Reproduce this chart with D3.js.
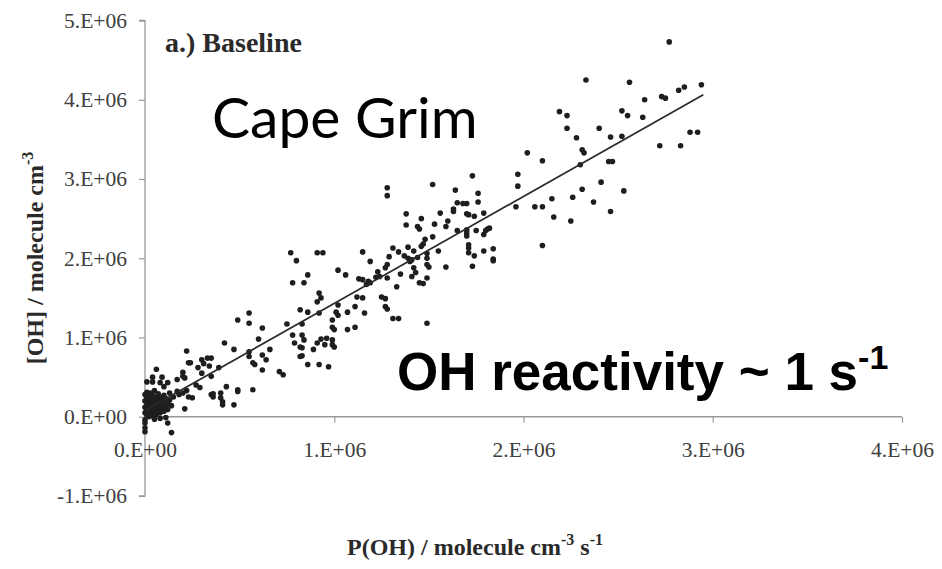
<!DOCTYPE html>
<html>
<head>
<meta charset="utf-8">
<script src="https://cdn.jsdelivr.net/npm/d3@7"></script>
<style>
  html, body { margin: 0; padding: 0; background: #fff; }
  svg { display: block; }
</style>
</head>
<body>
<svg id="chart" width="942" height="569"></svg>
<script>
// Production rate of OH, P(OH), in units of 1e6 molecule cm^-3 s^-1
const pOH = [
  2.77,2.56,2.82,2.85,2.94,2.64,2.73,2.75,2.52,2.55,2.63,2.40,2.46,2.52,2.88,2.92,2.72,2.83,2.45,2.47,2.41,2.53,2.46,
  2.33,2.19,2.23,2.23,2.28,2.31,2.02,2.10,2.30,1.73,1.97,
  2.32,1.28,1.28,1.52,1.97,1.64,1.76,2.31,2.26,2.15,2.37,1.65,1.76,1.68,1.70,1.56,1.63,1.63,1.70,1.71,1.74,1.79,1.96,2.06,2.10,2.16,2.25,
  1.38,1.38,1.46,1.53,1.60,1.59,1.44,1.45,1.65,1.70,1.70,1.70,1.75,1.80,1.81,1.79,1.82,1.52,1.48,1.47,1.46,1.71,1.71,1.71,1.74,1.79,1.84,1.84,1.84,
  1.73,1.55,1.59,2.10,1.31,1.34,1.39,1.42,1.49,1.37,1.39,1.41,1.40,1.44,1.29,1.28,1.27,1.49,1.49,1.50,1.42,1.43,1.41,1.35,1.49,1.45,1.47,1.28,1.33,
  1.25,1.27,1.27,1.28,1.31,1.34,1.49,1.24,
  0.77,0.80,0.91,0.94,0.78,0.84,0.86,1.02,1.06,1.15,1.19,1.23,1.13,1.15,1.18,1.19,1.17,1.22,0.92,0.93,0.91,1.02,1.12,1.15,0.82,0.86,1.01,0.99,1.07,
  1.11,1.16,0.75,0.83,0.92,0.99,1.00,1.02,1.07,1.11,0.78,0.83,0.79,0.82,0.83,0.83,0.82,0.89,0.84,0.91,0.93,0.96,0.95,0.99,0.99,1.00,0.92,0.97,0.86,
  0.55,0.49,0.55,0.62,0.42,0.47,0.60,0.55,0.55,0.57,0.58,0.62,0.64,0.66,0.62,0.71,0.73,0.57,0.49,0.49,0.43,0.39,0.34,0.35,0.33,0.30,0.31,0.24,0.28,
  0.22,0.23,0.20,0.20,0.21,0.17,0.30,0.35,0.35,0.36,0.36,0.40,0.41,0.41,0.47,0.27,0.29,0.22,0.23,0.21,0.25,0.20,0.17,0.18,0.13,0.10,0.12,0.09,0.06,
  0.04,0.08,0.01,0.04,0.00,0.00,0.00,0.12,0.14,0.11,0.40,
  0.00,0.00,0.00,0.00,0.01,0.01,0.01,0.01,0.01,0.02,0.02,0.02,0.02,0.02,0.03,0.03,0.03,0.03,0.04,0.04,0.04,0.04,0.05,0.05,0.05,0.05,0.06,0.06,0.06,
  0.07,0.07,0.07,0.07,0.08,0.08,0.08,0.09,0.09,0.09,0.10,0.10,0.10,0.11,0.11,0.12,0.12,0.13,0.14,0.15,0.05,0.00,0.08
];

// Measured [OH], in units of 1e6 molecule cm^-3
const ohConc = [
  4.73,4.22,4.12,4.16,4.19,4.00,4.04,4.02,3.86,3.80,3.78,3.64,3.53,3.54,3.59,3.59,3.42,3.42,3.22,3.22,2.96,2.85,2.59,
  4.25,3.85,3.80,3.64,3.52,3.37,3.33,3.23,3.18,3.04,3.06,
  3.33,2.89,2.79,2.93,2.91,2.86,2.82,2.87,2.77,2.75,2.71,2.70,2.71,2.69,2.69,2.57,2.62,2.59,2.56,2.55,2.53,2.57,2.65,2.65,2.65,2.52,2.47,
  2.56,2.42,2.50,2.43,2.47,2.40,2.40,2.37,2.35,2.36,2.32,2.28,2.35,2.35,2.37,2.30,2.38,2.27,2.24,2.18,2.15,2.17,2.13,2.07,2.03,2.09,2.12,1.99,1.97,
  1.90,2.09,1.89,2.16,2.13,2.08,2.14,2.09,2.06,2.03,2.00,1.98,1.96,2.01,2.02,1.92,1.88,2.00,1.92,1.89,1.88,1.82,1.77,1.80,1.75,1.69,1.68,1.75,1.64,
  1.51,1.49,1.39,1.36,1.24,1.24,1.18,1.77,
  2.07,1.97,2.07,2.07,1.69,1.69,1.79,1.85,1.79,2.08,1.96,1.83,1.74,1.73,1.71,1.69,1.67,1.76,1.56,1.50,1.45,1.41,1.51,1.50,1.35,1.32,1.32,1.22,1.32,
  1.39,1.31,1.17,1.17,1.31,1.13,1.10,1.28,1.10,1.13,1.03,1.03,0.93,0.88,0.87,0.77,0.76,0.85,0.97,0.93,0.98,0.99,0.91,0.97,0.91,0.88,0.66,0.63,0.66,
  1.31,1.22,1.18,1.12,0.93,0.85,0.98,0.82,0.76,0.68,0.66,0.78,0.72,0.85,0.59,0.57,0.53,0.34,0.34,0.32,0.38,0.62,0.64,0.74,0.74,0.72,0.67,0.68,0.62,
  0.83,0.68,0.56,0.51,0.49,0.47,0.55,0.51,0.28,0.25,0.29,0.30,0.15,0.19,0.15,0.40,0.37,0.33,0.25,0.10,0.24,0.30,0.32,0.28,0.30,0.38,0.43,0.50,0.60,
  0.50,0.43,0.44,0.44,-0.08,-0.14,-0.19,-0.08,-0.20,-0.01,0.24,
  0.05,0.12,0.20,0.28,0.02,0.09,0.16,0.24,0.31,0.00,0.07,0.13,0.19,0.26,0.04,0.10,0.22,0.30,0.01,0.14,0.18,0.27,0.06,0.11,0.21,0.33,0.03,0.16,0.25,
  0.08,0.13,0.20,0.29,0.05,0.17,0.24,0.10,0.15,0.22,0.07,0.19,0.27,0.12,0.23,0.16,0.09,0.21,0.14,0.25,-0.03,-0.04,-0.02
];

// Least-squares fit drawn through the points (same units)
const fitSlope = 1.35;
const fitIntercept = 0.08;
const fitRange = [0, 2.95];

// Axis ticks and their labels
const xTicks = [0, 1, 2, 3, 4];
const xTickLabels = ["0.E+00", "1.E+06", "2.E+06", "3.E+06", "4.E+06"];
const yTicks = [-1, 0, 1, 2, 3, 4, 5];
const yTickLabels = ["-1.E+06", "0.E+00", "1.E+06", "2.E+06", "3.E+06", "4.E+06", "5.E+06"];

const svg = d3.select("#chart");
const serif = "'Liberation Serif', 'Times New Roman', serif";

const x = d3.scaleLinear().domain([0, 4]).range([145, 902]);
const y = d3.scaleLinear().domain([-1, 5]).range([496, 20.5]);

// y axis at x = 0
const yAxis = d3.axisLeft(y)
  .tickValues(yTicks)
  .tickFormat((d, i) => yTickLabels[i])
  .tickSize(6)
  .tickPadding(12);
const gy = svg.append("g").attr("transform", `translate(${x(0)},0)`).call(yAxis);

// x axis at y = 0
const xAxis = d3.axisBottom(x)
  .tickValues(xTicks)
  .tickFormat((d, i) => xTickLabels[i])
  .tickSize(6)
  .tickPadding(19);
const gx = svg.append("g").attr("transform", `translate(0,${y(0)})`).call(xAxis);

[gx, gy].forEach(g => {
  g.select(".domain").attr("stroke", "#9a9a9a").attr("stroke-width", 1.3);
  g.selectAll(".tick line").attr("stroke", "#9a9a9a").attr("stroke-width", 1.2);
  g.selectAll(".tick text")
    .attr("fill", "#404040")
    .style("font-family", serif)
    .style("font-size", "21.5px");
});
gy.select(".domain").attr("d", `M-6,${y(5)}H0V${y(-1)}H-6`);
gx.select(".domain").attr("d", `M${x(0)},0H${x(4)}`);

// scatter points
const pts = pOH.map((v, i) => [v, ohConc[i]]);
svg.append("g").selectAll("circle")
  .data(pts)
  .join("circle")
  .attr("cx", d => x(d[0]))
  .attr("cy", d => y(d[1]))
  .attr("r", 2.8)
  .attr("fill", "#1e1e1e");

// fit line
svg.append("line")
  .attr("x1", x(fitRange[0])).attr("y1", y(fitIntercept + fitSlope * fitRange[0]))
  .attr("x2", x(fitRange[1])).attr("y2", y(fitIntercept + fitSlope * fitRange[1]))
  .attr("stroke", "#2a2a2a").attr("stroke-width", 1.7);

// panel label
svg.append("text")
  .attr("x", 165).attr("y", 52)
  .style("font-family", serif).style("font-size", "28px").style("font-weight", "bold")
  .attr("fill", "#2a2a2a")
  .text("a.) Baseline");

// site name
svg.append("text")
  .attr("x", 212).attr("y", 138)
  .style("font-family", "Lato, 'Open Sans', sans-serif").style("font-size", "57px")
  .attr("fill", "#000")
  .text("Cape Grim");

// reactivity note
const note = svg.append("text")
  .attr("x", 397).attr("y", 390)
  .style("font-family", "'Liberation Sans', Arial, sans-serif").style("font-size", "53px").style("font-weight", "bold")
  .attr("fill", "#000");
note.append("tspan").text("OH reactivity ~ 1 s");
note.append("tspan").attr("dy", -21).style("font-size", "34px").text("-1");

// x axis title
const xt = svg.append("text")
  .attr("x", 475).attr("y", 555)
  .attr("text-anchor", "middle")
  .style("font-family", serif).style("font-size", "24px").style("font-weight", "bold")
  .attr("fill", "#2a2a2a");
xt.append("tspan").text("P(OH) / molecule cm");
xt.append("tspan").attr("dy", -10).style("font-size", "16px").text("-3");
xt.append("tspan").attr("dy", 10).text(" s");
xt.append("tspan").attr("dy", -10).style("font-size", "16px").text("-1");

// y axis title
const yt = svg.append("text")
  .attr("transform", "translate(43,258) rotate(-90)")
  .attr("text-anchor", "middle")
  .style("font-family", serif).style("font-size", "24px").style("font-weight", "bold")
  .attr("fill", "#2a2a2a");
yt.append("tspan").text("[OH] / molecule cm");
yt.append("tspan").attr("dy", -10).style("font-size", "16px").text("-3");
</script>
</body>
</html>
